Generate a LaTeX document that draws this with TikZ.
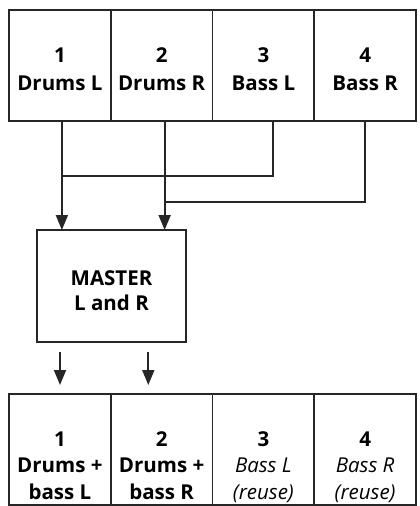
\documentclass[tikz,border=0pt]{standalone}
\usepackage{fontspec}
\setmainfont{Open Sans}
\usepackage{tikz}
\usetikzlibrary{arrows.meta,positioning}
\newcommand{\lift}[1]{\rule{0pt}{#1}}

\begin{document}
\begin{tikzpicture}[
  x=1pt, y=1pt,
  chan/.style={
    rectangle, draw=black!85, line width=1.8pt,
    minimum width=101.75pt, minimum height=111pt,
    inner sep=0pt, outer sep=0pt, align=center,
    font=\fontsize{20.5}{27.5}\selectfont\bfseries,
  },
  track/.style={
    chan, font=\fontsize{20.5}{26.5}\selectfont\bfseries,
  },
  mix/.style={
    chan, minimum width=149pt, minimum height=112pt,
    font=\fontsize{20.5}{25}\selectfont\bfseries,
  },
  wire/.style={line width=1.8pt, draw=black!85},
  flow/.style={wire, -{Triangle[length=15pt,width=12pt]}},
]
  \useasboundingbox (0,0) rectangle (420,-506);

  % source tracks
  \node[chan] (in1) at (59.875,-65.5) {\lift{22pt}1\\Drums L};
  \node[chan, right=0pt of in1] (in2) {\lift{22pt}2\\Drums R};
  \node[chan, right=0pt of in2] (in3) {\lift{22pt}3\\Bass L};
  \node[chan, right=0pt of in3] (in4) {\lift{22pt}4\\Bass R};

  % master
  \node[mix] (mst) at (111.5,-286) {\lift{24pt}MASTER\\L and R};

  % recorded tracks
  \node[track] (out1) at (59.875,-449.5) {\lift{50pt}1\\Drums +\\bass L\vphantom{(}};
  \node[track, right=0pt of out1] (out2) {\lift{50pt}2\\Drums +\\bass R\vphantom{(}};
  \node[track, right=0pt of out2] (out3) {\lift{50pt}3\\\textit{\mdseries Bass L}\\\textit{\mdseries (reuse)}};
  \node[track, right=0pt of out3] (out4) {\lift{50pt}4\\\textit{\mdseries Bass R}\\\textit{\mdseries (reuse)}};

  \coordinate (j1) at ([xshift=2pt]in1.south |- 0,-176);
  \coordinate (j2) at ([xshift=3pt]in2.south |- 0,-202);

  \draw[flow] ([xshift=2pt]in1.south) -- ([xshift=2pt]in1.south |- mst.north);
  \draw[flow] ([xshift=3pt]in2.south) -- ([xshift=3pt]in2.south |- mst.north);
  \draw[wire] ([xshift=9.3pt]in3.south) |- (j1);
  \draw[wire] (in4.south) |- (j2);

  \draw[flow] ([xshift=-51.5pt,yshift=-9.5pt]mst.south)
    -- ([xshift=-51.5pt,yshift=9pt]mst.south |- out1.north);
  \draw[flow] ([xshift=36.8pt,yshift=-9.5pt]mst.south)
    -- ([xshift=36.8pt,yshift=9pt]mst.south |- out1.north);
\end{tikzpicture}
\end{document}
